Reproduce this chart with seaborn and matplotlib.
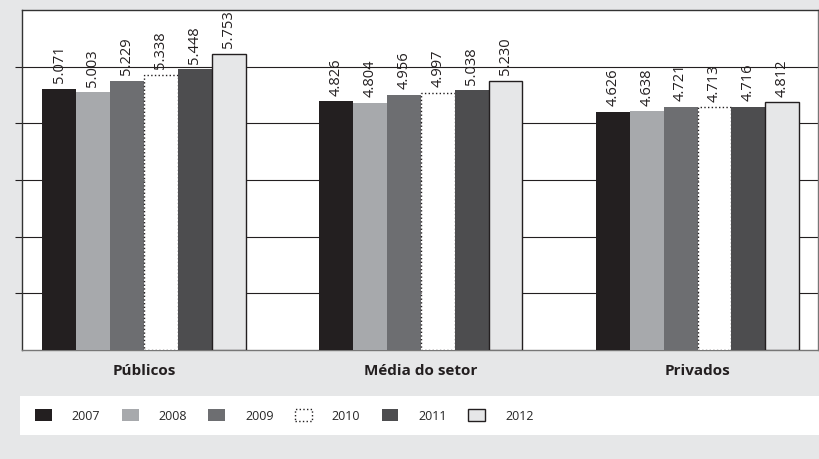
import numpy as np
import pandas as pd
import seaborn as sns
import matplotlib.pyplot as plt
from matplotlib.patches import Patch, Rectangle

grupos = ['Públicos', 'Média do setor', 'Privados']
anos = ['2007', '2008', '2009', '2010', '2011', '2012']
valores = {
    '2007': [5.071, 4.826, 4.626],
    '2008': [5.003, 4.804, 4.638],
    '2009': [5.229, 4.956, 4.721],
    '2010': [5.338, 4.997, 4.713],
    '2011': [5.448, 5.038, 4.716],
    '2012': [5.753, 5.230, 4.812],
}
cores = ['#231f20', '#a7a9ac', '#6d6e71', '#ffffff', '#4d4d4f', '#e6e7e8']
bordas = ['none', 'none', 'none', ':', 'none', '-']

linhas = []
for a in anos:
    for g, v in zip(grupos, valores[a]):
        linhas.append({'grupo': g, 'ano': a, 'valor': v})
df = pd.DataFrame(linhas)

sns.set_style('white')
plt.rcParams['font.family'] = ['Open Sans', 'DejaVu Sans']

fig = plt.figure(figsize=(8.19, 4.59), dpi=100, facecolor='#e6e7e8')
ax = fig.add_axes([22/819, 1 - 350/459, 796/819, 340/459])
ax.set_facecolor('white')

sns.barplot(data=df, x='grupo', y='valor', hue='ano', order=grupos, hue_order=anos,
            palette=cores, saturation=1, width=0.735, gap=0, errorbar=None,
            legend=False, ax=ax, zorder=3)

for cont, a, estilo in zip(ax.containers, anos, bordas):
    for bar in cont:
        if estilo == 'none':
            bar.set_edgecolor(bar.get_facecolor())
            bar.set_linewidth(0)
        else:
            bar.set_edgecolor('#231f20')
            bar.set_linewidth(1.0)
            bar.set_linestyle(estilo)
    ax.bar_label(cont, labels=[f'{v:.3f}' for v in valores[a]], rotation=90,
                 padding=4, fontsize=10.5, color='#231f20')

# escala sem rotulos, so tracos e grade
ax.set_ylim(0, 6.6)
ax.set_xlim(-0.44, 2.435)
ax.set_yticks([1.1, 2.2, 3.3, 4.4, 5.5])
ax.set_yticklabels([])
ax.tick_params(axis='y', left=True, length=5, width=0.8, color='#231f20', direction='out')
ax.tick_params(axis='x', length=0, pad=10, labelsize=11)
for t in ax.get_xticklabels():
    t.set_fontweight('bold')
    t.set_color('#231f20')
ax.yaxis.grid(True, color='#231f20', linewidth=0.8)
ax.set_axisbelow(True)
ax.set_xlabel('')
ax.set_ylabel('')
for s in ['left', 'top']:
    ax.spines[s].set_color('#333333')
    ax.spines[s].set_linewidth(1.0)
for s in ['bottom', 'right']:
    ax.spines[s].set_color('#777777')
    ax.spines[s].set_linewidth(1.0)

# caixa branca da legenda
fig.patches.append(Rectangle((20/819, 1 - 435/459), 1 - 20/819, 39/459,
                             transform=fig.transFigure, facecolor='white',
                             edgecolor='none', zorder=0))
handles = []
for c, estilo in zip(cores, bordas):
    if estilo == 'none':
        handles.append(Patch(facecolor=c, edgecolor=c, linewidth=0))
    else:
        handles.append(Patch(facecolor=c, edgecolor='#231f20', linewidth=1.0, linestyle=estilo))
fig.legend(handles, anos, loc='center left', bbox_to_anchor=(35/819, 1 - 416/459),
           ncol=6, frameon=False, fontsize=9, borderpad=0, borderaxespad=0,
           handlelength=1.35, handleheight=1.1, handletextpad=1.6, columnspacing=1.7)

fig.savefig('out.png', dpi=100, facecolor=fig.get_facecolor())
